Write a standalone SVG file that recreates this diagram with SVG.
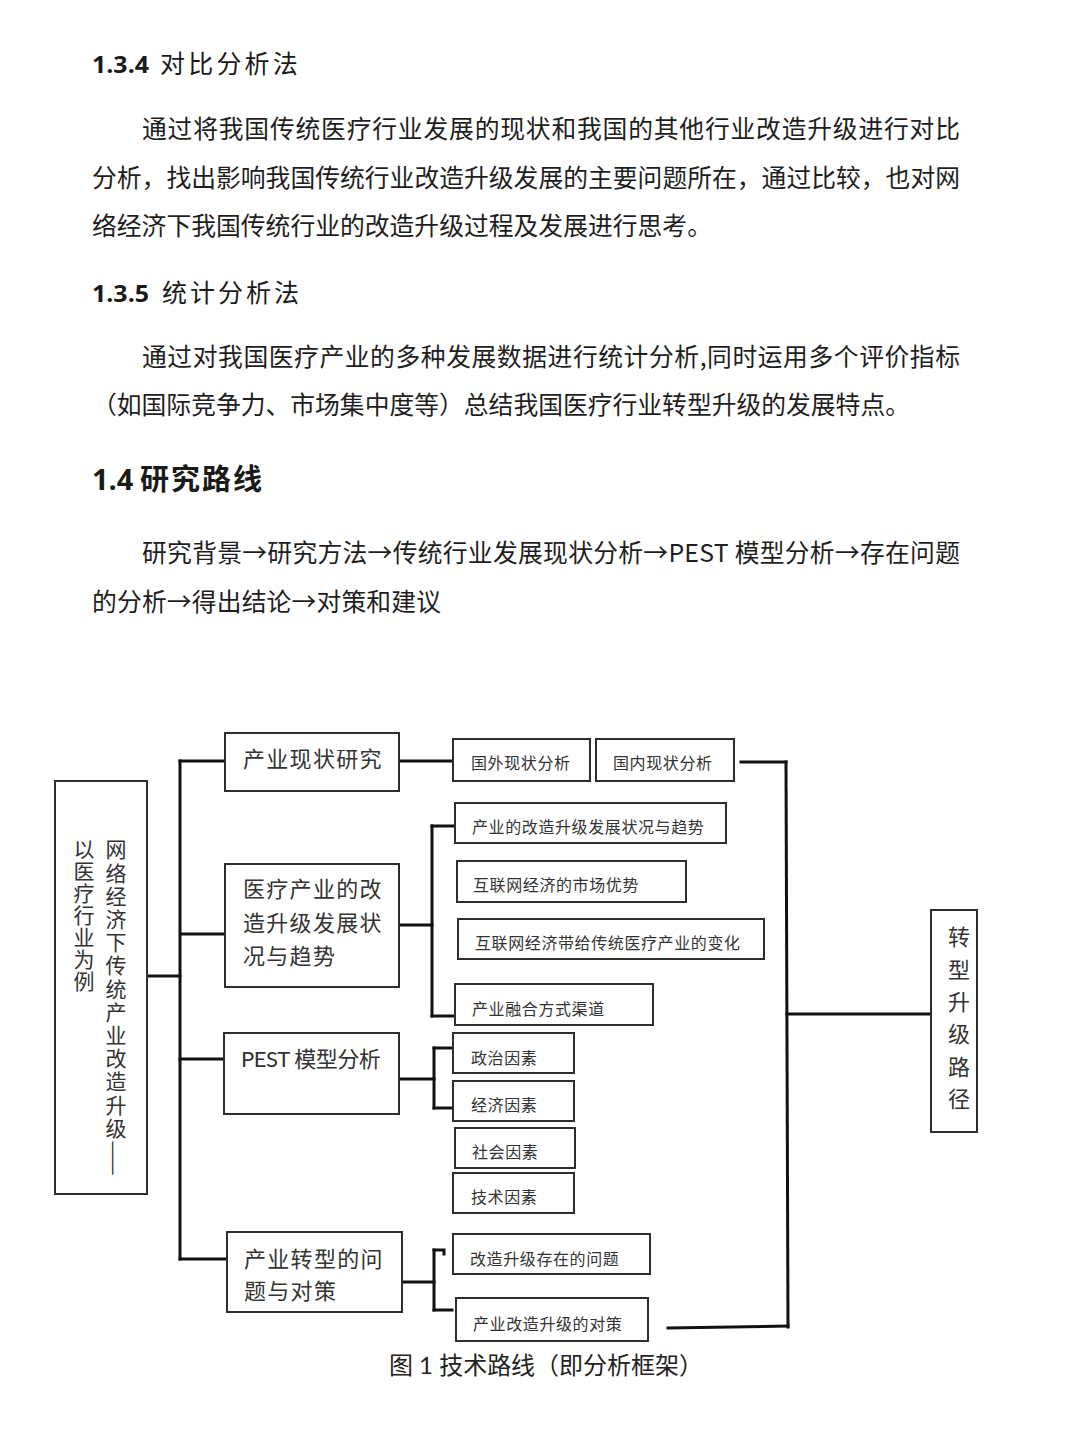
<svg xmlns="http://www.w3.org/2000/svg" width="1080" height="1440" viewBox="0 0 1080 1440">
<style>
.bg{fill:#ffffff}
.body{font-family:"Noto Sans CJK SC","Liberation Sans",sans-serif;font-size:24.8px;fill:#1e1e1e}
.hd{font-family:"Open Sans","Noto Sans CJK SC",sans-serif;fill:#1a1a1a}
.box{fill:#ffffff;stroke:#2e2e2e;stroke-width:2}
.big{font-family:Lato,"Noto Sans CJK SC",sans-serif;font-size:22px;fill:#333;letter-spacing:1.3px}
.sm{font-family:"Noto Sans CJK SC",sans-serif;font-size:16px;fill:#333;letter-spacing:0.6px}
.vt{font-family:"Noto Sans CJK SC",sans-serif;fill:#333;writing-mode:vertical-rl}
.cn{fill:none;stroke:#111;stroke-width:3;stroke-linecap:square}
.cap{font-family:Lato,"Noto Sans CJK SC",sans-serif;font-size:24px;fill:#222}
</style>
<rect class="bg" x="0" y="0" width="1080" height="1440"/>

<g id="text-body">
<text class="hd" x="92" y="73" font-size="24" font-weight="700" textLength="57" lengthAdjust="spacingAndGlyphs">1.3.4</text>
<text class="hd" x="160" y="73" font-size="25" font-family="Noto Sans CJK SC, sans-serif" letter-spacing="3.2">对比分析法</text>
<text class="body" x="142" y="138" textLength="818" lengthAdjust="spacing">通过将我国传统医疗行业发展的现状和我国的其他行业改造升级进行对比</text>
<text class="body" x="92" y="187" textLength="868" lengthAdjust="spacing">分析，找出影响我国传统行业改造升级发展的主要问题所在，通过比较，也对网</text>
<text class="body" x="92" y="235">络经济下我国传统行业的改造升级过程及发展进行思考。</text>

<text class="hd" x="92" y="302" font-size="24" font-weight="700" textLength="57" lengthAdjust="spacingAndGlyphs">1.3.5</text>
<text class="hd" x="162" y="302" font-size="25" font-family="Noto Sans CJK SC, sans-serif" letter-spacing="3">统计分析法</text>
<text class="body" x="142" y="366" textLength="818" lengthAdjust="spacing">通过对我国医疗产业的多种发展数据进行统计分析,同时运用多个评价指标</text>
<text class="body" x="92" y="414" textLength="818" lengthAdjust="spacing">（如国际竞争力、市场集中度等）总结我国医疗行业转型升级的发展特点。</text>

<text class="hd" x="92" y="490" font-size="29" font-weight="700">1.4<tspan x="140" font-family="Noto Sans CJK SC, sans-serif" letter-spacing="2">研究路线</tspan></text>
<text class="body" x="142" y="562" textLength="818" lengthAdjust="spacing">研究背景→研究方法→传统行业发展现状分析→PEST 模型分析→存在问题</text>
<text class="body" x="92" y="611" textLength="349" lengthAdjust="spacing">的分析→得出结论→对策和建议</text>
</g>

<g id="connectors">
<path class="cn" d="M148 976 H180"/>
<path class="cn" d="M180 761 V1259"/>
<path class="cn" d="M180 761 H225"/>
<path class="cn" d="M182 934 H225"/>
<path class="cn" d="M180 1059 H224"/>
<path class="cn" d="M180 1259 H227"/>
<path class="cn" d="M400 761 H453"/>
<path class="cn" d="M741 762 H786"/>
<path class="cn" d="M786 762 L788 1327"/>
<path class="cn" d="M668 1328 L788 1326"/>
<path class="cn" d="M787 1014 H931"/>
<path class="cn" d="M400 925 H432"/>
<path class="cn" d="M432 826 V1016"/>
<path class="cn" d="M432 826 H455"/>
<path class="cn" d="M432 1016 H455"/>
<path class="cn" d="M400 1079 H434"/>
<path class="cn" d="M434 1048 V1108"/>
<path class="cn" d="M434 1048 H453"/>
<path class="cn" d="M434 1108 H453"/>
<path class="cn" d="M403 1282 H434"/>
<path class="cn" d="M434 1250 V1310"/>
<path class="cn" d="M434 1250 H444 V1254"/>
<path class="cn" d="M434 1310 H452"/>
</g>

<g id="node-root">
<rect class="box" x="55" y="781" width="92" height="413"/>
<text class="vt" x="116" y="839" font-size="21" letter-spacing="2.2">网络经济下传统产业改造升级——</text>
<text class="vt" x="84" y="839" font-size="21" letter-spacing="1">以医疗行业为例</text>
</g>

<g id="node-status">
<rect class="box" x="225" y="733" width="174" height="58"/>
<text class="big" x="243" y="766.5">产业现状研究</text>
</g>
<g id="node-upgrade">
<rect class="box" x="225" y="864" width="174" height="123"/>
<text class="big" x="243" y="896.5">医疗产业的改</text>
<text class="big" x="243" y="930.5">造升级发展状</text>
<text class="big" x="243" y="963.5">况与趋势</text>
</g>
<g id="node-pest">
<rect class="box" x="224" y="1033" width="175" height="81"/>
<text class="big" x="241" y="1066.5" textLength="141" lengthAdjust="spacing">PEST 模型分析</text>
</g>
<g id="node-problems">
<rect class="box" x="227" y="1232" width="175" height="80"/>
<text class="big" x="244" y="1266.5">产业转型的问</text>
<text class="big" x="244" y="1298.5">题与对策</text>
</g>

<g id="node-foreign">
<rect class="box" x="453" y="739" width="137" height="42"/>
<text class="sm" x="471" y="769">国外现状分析</text>
</g>
<g id="node-domestic">
<rect class="box" x="596" y="739" width="138" height="42"/>
<text class="sm" x="613" y="769">国内现状分析</text>
</g>
<g id="node-trend">
<rect class="box" x="455" y="803" width="271" height="40"/>
<text class="sm" x="472" y="833">产业的改造升级发展状况与趋势</text>
</g>
<g id="node-advantage">
<rect class="box" x="457" y="861" width="229" height="41"/>
<text class="sm" x="473" y="891">互联网经济的市场优势</text>
</g>
<g id="node-change">
<rect class="box" x="458" y="919" width="306" height="40"/>
<text class="sm" x="475" y="949">互联网经济带给传统医疗产业的变化</text>
</g>
<g id="node-fusion">
<rect class="box" x="455" y="984" width="198" height="41"/>
<text class="sm" x="472" y="1015">产业融合方式渠道</text>
</g>
<g id="node-political">
<rect class="box" x="453" y="1033" width="121" height="40"/>
<text class="sm" x="471" y="1064">政治因素</text>
</g>
<g id="node-economic">
<rect class="box" x="453" y="1081" width="121" height="40"/>
<text class="sm" x="471" y="1111">经济因素</text>
</g>
<g id="node-social">
<rect class="box" x="455" y="1128" width="120" height="40"/>
<text class="sm" x="472" y="1158">社会因素</text>
</g>
<g id="node-tech">
<rect class="box" x="453" y="1173" width="121" height="40"/>
<text class="sm" x="471" y="1203">技术因素</text>
</g>
<g id="node-issue">
<rect class="box" x="453" y="1234" width="197" height="40"/>
<text class="sm" x="470" y="1265">改造升级存在的问题</text>
</g>
<g id="node-measure">
<rect class="box" x="456" y="1298" width="192" height="43"/>
<text class="sm" x="473" y="1330">产业改造升级的对策</text>
</g>
<g id="node-path">
<rect class="box" x="931" y="910" width="46" height="222"/>
<text class="vt" x="959" y="926" font-size="22" letter-spacing="10.3">转型升级路径</text>
</g>

<g id="caption">
<text class="cap" x="389" y="1374" textLength="314" lengthAdjust="spacing">图 1 技术路线（即分析框架）</text>
</g>
</svg>
